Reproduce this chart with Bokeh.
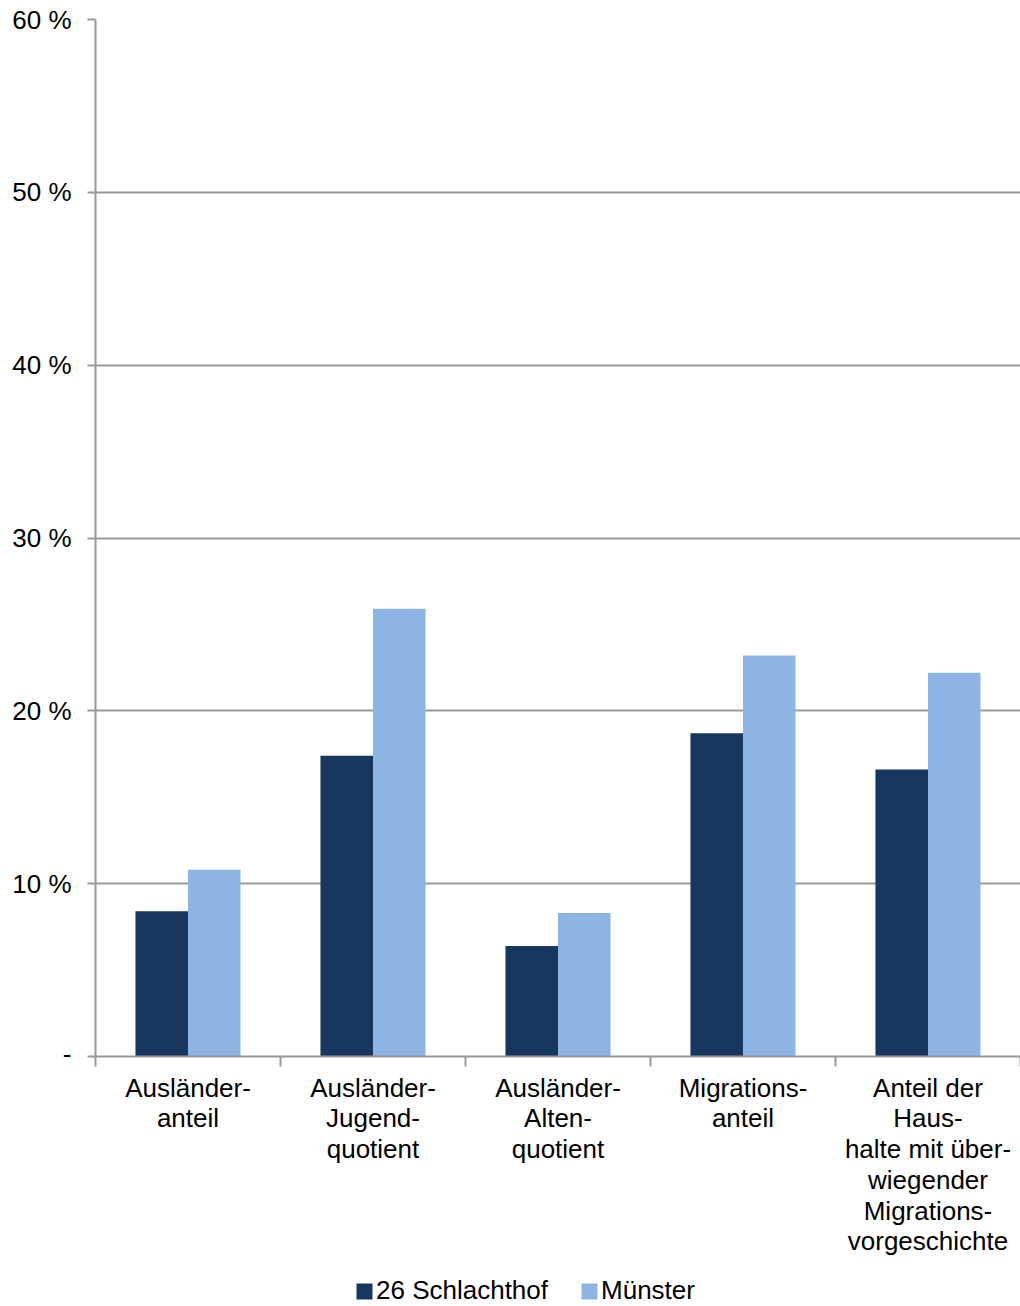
from bokeh.plotting import figure
from bokeh.models import Range1d, FixedTicker, Legend, LegendItem, ColumnDataSource
from bokeh.layouts import column
from bokeh.core.properties import value
from bokeh.embed import file_html
from bokeh.resources import INLINE

categories = ["Ausländer-\nanteil", "Ausländer-\nJugend-\nquotient", "Ausländer-\nAlten-\nquotient",
              "Migrations-\nanteil", "Anteil der\nHaus-\nhalte mit über-\nwiegender\nMigrations-\nvorgeschichte"]
schlachthof = [8.4, 17.4, 6.4, 18.7, 16.6]
muenster = [10.8, 25.9, 8.3, 23.2, 22.2]
y_ticks = [0, 10, 20, 30, 40, 50, 60]
y_labels = ["-", "10 %", "20 %", "30 %", "40 %", "50 %", "60 %"]
series_names = ["26 Schlachthof", "Münster"]

DARK = "#17375E"
LIGHT = "#8EB4E3"
GRID = "#999999"
FONT = "Liberation Sans"
FS = "26px"

W = 1020
H1 = 1068
H2 = 1306 - H1
bw = 0.284
centers = [i + 0.5 for i in range(len(categories))]

# ---------- main chart ----------
p = figure(width=W, height=H1, output_backend="svg", toolbar_location=None,
           x_range=Range1d(0, len(categories)), y_range=Range1d(0, 60),
           min_border_left=95, min_border_top=19, min_border_right=0, min_border_bottom=12)
p.outline_line_color = None

src1 = ColumnDataSource(dict(x=[c - bw / 2 for c in centers], top=schlachthof))
src2 = ColumnDataSource(dict(x=[c + bw / 2 for c in centers], top=muenster))
r1 = p.vbar(x="x", top="top", width=bw, source=src1, fill_color=DARK, line_color=None)
r2 = p.vbar(x="x", top="top", width=bw, source=src2, fill_color=LIGHT, line_color=None)

p.xgrid.visible = False
p.ygrid.grid_line_color = GRID
p.ygrid.grid_line_width = 2
p.ygrid.ticker = FixedTicker(ticks=y_ticks)

ya = p.yaxis[0]
ya.ticker = FixedTicker(ticks=y_ticks)
ya.major_label_overrides = {t: l for t, l in zip(y_ticks, y_labels)}
ya.axis_line_color = GRID
ya.axis_line_width = 2
ya.major_tick_line_color = GRID
ya.major_tick_line_width = 2
ya.major_tick_out = 8
ya.major_tick_in = 0
ya.minor_tick_line_color = None
ya.major_label_text_font = FONT
ya.major_label_text_font_size = FS
ya.major_label_text_color = "#000000"
ya.major_label_standoff = 16

xa = p.xaxis[0]
xa.ticker = FixedTicker(ticks=[], minor_ticks=list(range(len(categories) + 1)))
xa.axis_line_color = GRID
xa.axis_line_width = 2
xa.major_tick_line_color = None
xa.major_tick_out = 0
xa.major_label_text_font_size = "0px"
xa.major_label_standoff = 0
xa.minor_tick_line_color = GRID
xa.minor_tick_line_width = 2
xa.minor_tick_out = 10
xa.minor_tick_in = 0

# ---------- category labels + legend strip ----------
q = figure(width=W, height=H2, output_backend="svg", toolbar_location=None,
           x_range=p.x_range, y_range=Range1d(H2, 0), x_axis_type=None, y_axis_type=None,
           min_border_left=95, min_border_top=0, min_border_right=0, min_border_bottom=0)
q.outline_line_color = None
q.xgrid.visible = False
q.ygrid.visible = False

q.text(x=centers, y=[4] * len(centers), text=categories, text_align="center", text_baseline="top",
       text_font=value(FONT), text_font_size=value(FS), text_color="#000000", text_line_height=1.025)

# legend proxies (placed outside the visible range, zero height)
l1 = q.vbar(x=[-10], top=[0], bottom=[0], width=bw, fill_color=DARK, line_color=None)
l2 = q.vbar(x=[-10], top=[0], bottom=[0], width=bw, fill_color=LIGHT, line_color=None)

legend = Legend(items=[LegendItem(label=series_names[0], renderers=[l1]),
                       LegendItem(label=series_names[1], renderers=[l2])],
                orientation="horizontal", location=(259, 0))
legend.label_text_font = FONT
legend.label_text_font_size = FS
legend.label_text_color = "#000000"
legend.glyph_width = 20
legend.glyph_height = 20
legend.label_standoff = 2
legend.spacing = 31
legend.border_line_color = None
legend.background_fill_alpha = 0
legend.padding = 0
legend.margin = 0
q.add_layout(legend, "center")

layout = column(p, q, spacing=0)
open("out.html", "w").write(file_html(layout, INLINE))
